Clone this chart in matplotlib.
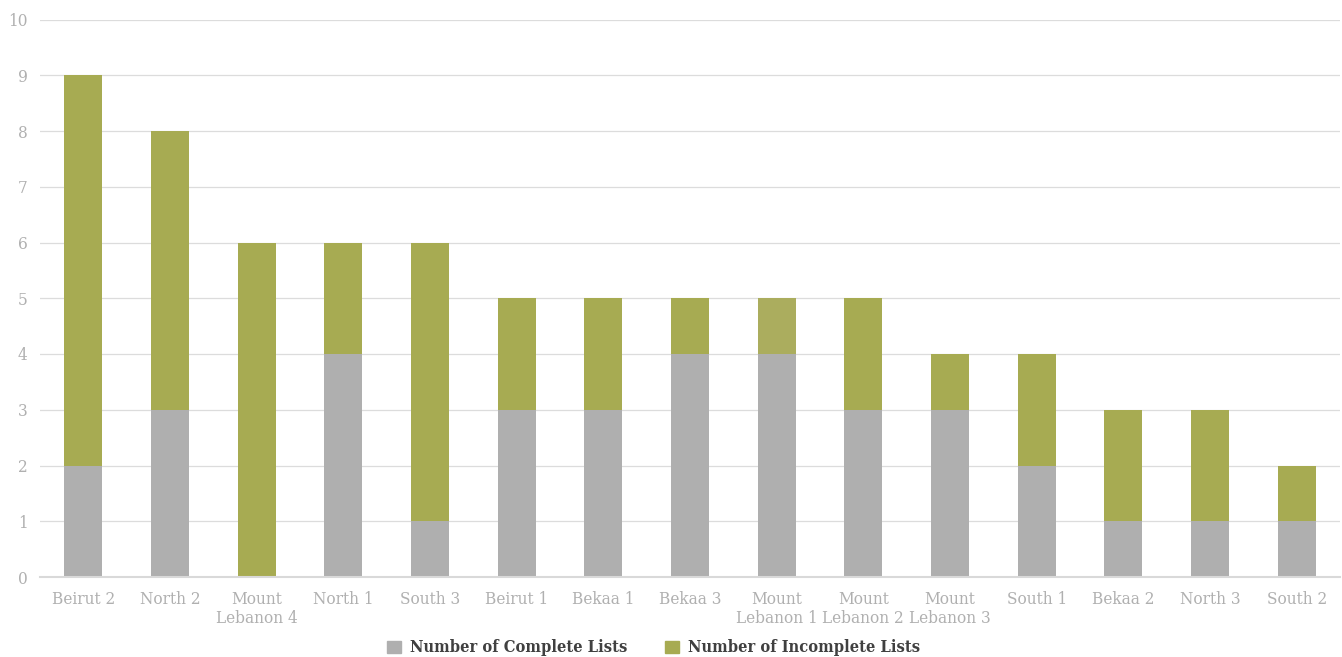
import matplotlib
matplotlib.use("Agg")
import matplotlib.pyplot as plt
from matplotlib.patches import Patch

categories = ["Beirut 2", "North 2", "Mount\nLebanon 4", "North 1", "South 3", "Beirut 1",
              "Bekaa 1", "Bekaa 3", "Mount\nLebanon 1", "Mount\nLebanon 2", "Mount\nLebanon 3",
              "South 1", "Bekaa 2", "North 3", "South 2"]
complete = [2, 3, 0, 4, 1, 3, 3, 4, 4, 3, 3, 2, 1, 1, 1]
incomplete = [7, 5, 6, 2, 5, 2, 2, 1, 1, 2, 1, 2, 2, 2, 1]
yticks = list(range(0, 11))

grey = "#AFAFAF"
green = "#A7AB52"
green_light = "#ABAD5E"

fig = plt.figure(figsize=(13.42, 6.57), dpi=100)
W, H = 1342, 657
ax = fig.add_axes([40 / W, (H - 577) / H, (1340 - 40) / W, (577 - 19.5) / H])

x = list(range(len(categories)))
ax.bar(x, complete, width=0.44, color=grey, zorder=2)
inc_colors = [green_light if c == "Mount\nLebanon 1" else green for c in categories]
ax.bar(x, incomplete, width=0.44, bottom=complete, color=inc_colors, zorder=2)

ax.set_xlim(-0.5, len(categories) - 0.5)
ax.set_ylim(0, 10)
ax.set_yticks(yticks)
ax.set_xticks(x)
ax.set_xticklabels(categories, linespacing=1.15)
ax.yaxis.grid(True, color="#DCDCDC", linewidth=0.9, zorder=0)
ax.set_axisbelow(True)
for s in ["top", "right", "left"]:
    ax.spines[s].set_visible(False)
ax.spines["bottom"].set_color("#D9D9D9")
ax.spines["bottom"].set_linewidth(1.5)
ax.tick_params(axis="both", length=0, colors="#B0B0B0", labelsize=12.3)
ax.tick_params(axis="x", pad=10)
ax.tick_params(axis="y", pad=9)
for lab in ax.get_xticklabels() + ax.get_yticklabels():
    lab.set_fontfamily("DejaVu Serif")
    lab.set_fontstretch("condensed")
    lab.set_color("#B0B0B0")

handles = [Patch(color=grey, label="Number of Complete Lists"),
           Patch(color=green, label="Number of Incomplete Lists")]
fig.legend(handles=handles, loc="center", bbox_to_anchor=(654 / W, 1 - 648 / H), ncol=2,
           frameon=False, handlelength=0.8, handleheight=0.8, handletextpad=0.6, columnspacing=2.3,
           prop={"family": "DejaVu Serif", "weight": "bold", "size": 11.8, "stretch": "condensed"},
           labelcolor="#404040")

fig.savefig("out.png", dpi=100)
